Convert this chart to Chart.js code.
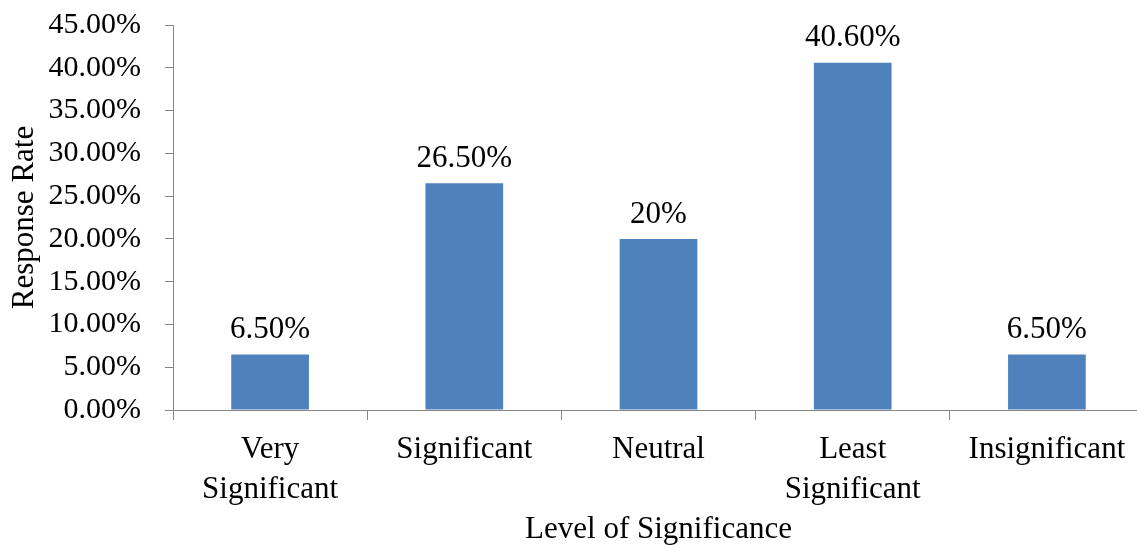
<!DOCTYPE html>
<html>
<head>
<meta charset="utf-8">
<script src="https://cdn.jsdelivr.net/npm/chart.js@4/dist/chart.umd.min.js"></script>
<style>
  html, body { margin: 0; padding: 0; background: #fff; overflow: hidden; }
  #wrap { position: absolute; left: 0; top: 0; width: 1144px; height: 548px; }
</style>
</head>
<body>
<div id="wrap"><canvas id="grafica"></canvas></div>
<script>
// datos
const categorias = [["Very", "Significant"], "Significant", "Neutral", ["Least", "Significant"], "Insignificant"];
const respuestas = [6.5, 26.5, 20, 40.6, 6.5];
const etiquetasValor = ["6.50%", "26.50%", "20%", "40.60%", "6.50%"];
const ticksY = [0, 5, 10, 15, 20, 25, 30, 35, 40, 45];

const fuente = "'Liberation Serif', 'Times New Roman', serif";
const gris = "#868686";

// etiquetas encima de cada barra
const etiquetasBarras = {
  id: "etiquetasBarras",
  afterDatasetsDraw(chart) {
    const ctx = chart.ctx;
    const meta = chart.getDatasetMeta(0);
    ctx.save();
    ctx.font = "31px " + fuente;
    ctx.fillStyle = "#000";
    ctx.textAlign = "center";
    ctx.textBaseline = "bottom";
    meta.data.forEach((barra, i) => {
      ctx.fillText(etiquetasValor[i], barra.x, barra.y - 9);
    });
    ctx.restore();
  }
};

new Chart(document.getElementById("grafica"), {
  type: "bar",
  data: {
    labels: categorias,
    datasets: [{
      data: respuestas,
      backgroundColor: "#4F81BD",
      borderWidth: 0,
      barPercentage: 0.4,
      categoryPercentage: 1.0
    }]
  },
  options: {
    responsive: true,
    maintainAspectRatio: false,
    animation: false,
    layout: { padding: { top: 25, left: 0, right: 0, bottom: 0 } },
    plugins: {
      legend: { display: false },
      tooltip: { enabled: false }
    },
    scales: {
      x: {
        grid: { drawOnChartArea: false, drawTicks: true, tickLength: 10, color: gris, offset: true },
        border: { color: gris, width: 1 },
        ticks: {
          color: "#000",
          font: { family: fuente, size: 31, lineHeight: 1.29 },
          padding: 10,
          maxRotation: 0,
          autoSkip: false
        },
        title: {
          display: true,
          text: "Level of Significance",
          color: "#000",
          font: { family: fuente, size: 31 },
          padding: { top: 0, bottom: 0 }
        },
        afterFit(escala) {
          escala.height = 138;
          escala.paddingLeft = 0;
          escala.paddingRight = 0;
        }
      },
      y: {
        min: 0,
        max: 45,
        afterBuildTicks(escala) { escala.ticks = ticksY.map(v => ({ value: v })); },
        grid: { drawOnChartArea: false, drawTicks: true, tickLength: 8, color: gris },
        border: { color: gris, width: 1 },
        ticks: {
          color: "#000",
          font: { family: fuente, size: 30 },
          padding: 24,
          callback: v => v.toFixed(2) + "%"
        },
        title: {
          display: true,
          text: "Response Rate",
          color: "#000",
          font: { family: fuente, size: 31 },
          padding: { top: 6, bottom: 0 }
        },
        afterFit(escala) {
          escala.width = 173;
          escala.paddingTop = 0;
          escala.paddingBottom = 0;
        }
      }
    }
  },
  plugins: [etiquetasBarras]
});
</script>
</body>
</html>
